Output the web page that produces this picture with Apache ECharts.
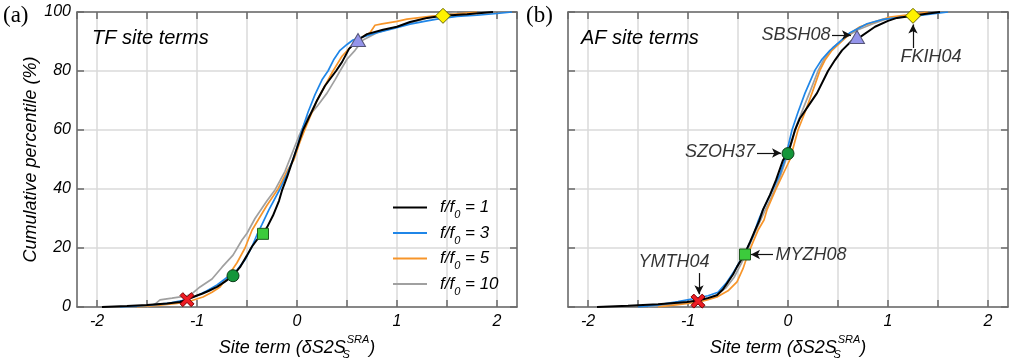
<!DOCTYPE html>
<html><head><meta charset="utf-8">
<script src="https://cdn.jsdelivr.net/npm/echarts@6/dist/echarts.min.js"></script>
<style>html,body{margin:0;padding:0;background:#fff}#c{width:1010px;height:360px}</style>
</head><body><div id="c"></div>
<script>
// ---------- DATA ----------
const seriesNames = ['f/f0 = 1', 'f/f0 = 3', 'f/f0 = 5', 'f/f0 = 10'];
const yTicks = [0, 20, 40, 60, 80, 100];

// (a) TF site terms : [site term, cumulative %]
const tfF1 = [[-1.95,0],[-1.7,0.3],[-1.5,0.7],[-1.3,1.2],[-1.17,1.7],[-1.1,2.5],[-1.0,3.9],[-0.95,4.5],[-0.88,5.5],[-0.8,6.8],[-0.72,8.6],[-0.64,10.6],[-0.57,13.5],[-0.5,17.5],[-0.45,20.5],[-0.4,22.8],[-0.34,24.8],[-0.3,27],[-0.24,31],[-0.18,36],[-0.15,39.5],[-0.1,44],[-0.05,49],[0.0,54],[0.06,60],[0.13,65],[0.2,70],[0.28,75],[0.39,80],[0.45,83],[0.52,87.5],[0.61,90.5],[0.7,92.5],[0.86,94],[1.0,95],[1.13,96.6],[1.3,98],[1.46,98.7],[1.7,99.2],[1.96,100]];
const tfF3 = [[-1.77,0],[-1.5,0.5],[-1.3,1.2],[-1.15,2.2],[-1.0,3.8],[-0.9,5.5],[-0.8,7.5],[-0.72,9.5],[-0.6,12.5],[-0.52,16],[-0.45,20.5],[-0.4,24.5],[-0.35,28],[-0.28,33],[-0.17,40],[-0.1,45],[-0.04,50],[0.0,54],[0.05,60],[0.11,66],[0.18,72],[0.25,77],[0.31,80],[0.37,84],[0.43,87],[0.5,89],[0.56,90.5],[0.7,92],[0.8,93],[0.95,94.3],[1.13,95.9],[1.3,97],[1.4,97.6],[1.6,98.5],[1.8,98.9],[2.0,99.5],[2.15,100]];
const tfF5 = [[-1.6,0],[-1.4,0.5],[-1.2,1.2],[-1.05,2.2],[-0.94,3.4],[-0.85,5],[-0.77,6.8],[-0.7,10],[-0.6,15],[-0.52,20],[-0.45,26],[-0.38,30],[-0.3,34.5],[-0.19,40],[-0.1,46],[-0.03,50],[0.03,56],[0.1,62],[0.2,70],[0.28,75],[0.36,80],[0.45,85],[0.56,89],[0.65,91.5],[0.73,93],[0.78,95.5],[0.85,96],[1.0,96.8],[1.1,97.6],[1.33,98.5],[1.5,99],[1.8,100]];
const tfF10 = [[-1.5,0],[-1.42,1],[-1.37,2.4],[-1.25,3],[-1.1,3.8],[-1.05,4.5],[-0.97,6.8],[-0.85,9.5],[-0.75,13.5],[-0.64,17.6],[-0.55,22.7],[-0.5,25],[-0.42,30],[-0.3,36],[-0.22,39.7],[-0.12,46],[-0.05,52],[0.02,58],[0.1,64],[0.2,68],[0.3,72.5],[0.38,77],[0.43,80],[0.5,84],[0.58,87],[0.66,90.5],[0.8,93],[1.0,95],[1.2,97],[1.36,98.5],[1.6,100]];

// (b) AF site terms
const afF1 = [[-1.91,0],[-1.6,0.4],[-1.3,0.9],[-1.01,1.7],[-0.9,2.2],[-0.8,3],[-0.71,4],[-0.65,6],[-0.61,8],[-0.55,11],[-0.51,13.6],[-0.44,17.6],[-0.38,22],[-0.33,26],[-0.29,29],[-0.25,33],[-0.18,38],[-0.12,43],[-0.05,49.8],[0.0,52],[0.07,60],[0.12,64],[0.2,68],[0.29,72.5],[0.4,80],[0.47,83.7],[0.54,87],[0.63,90],[0.72,91.5],[0.87,95],[1.0,97],[1.09,98],[1.25,98.7],[1.4,99.5],[1.52,100]];
const afF3 = [[-1.5,0],[-1.3,0.7],[-1.1,1.8],[-0.95,2.8],[-0.8,3.8],[-0.7,5],[-0.62,8],[-0.55,11.5],[-0.48,15.5],[-0.42,19],[-0.35,24],[-0.3,29],[-0.25,33],[-0.15,40],[-0.08,45],[-0.03,50],[0.04,60],[0.1,66],[0.17,72.5],[0.27,80.3],[0.34,84],[0.42,87],[0.52,90],[0.62,93],[0.79,96],[0.95,97.5],[1.15,98.3],[1.3,98.8],[1.6,100]];
const afF5 = [[-1.3,0],[-1.1,0.8],[-0.9,1.6],[-0.8,2.5],[-0.71,3.4],[-0.6,5.5],[-0.51,8.5],[-0.45,13],[-0.41,17],[-0.35,22],[-0.3,26],[-0.24,29.5],[-0.21,33],[-0.12,40],[-0.05,45],[0.02,50],[0.06,55],[0.1,60],[0.17,66],[0.24,72.5],[0.32,80.3],[0.37,83.7],[0.44,87],[0.55,90.5],[0.63,93],[0.72,95],[0.85,96.5],[1.02,98.3],[1.2,99],[1.4,100]];
const afF10 = [[-1.4,0],[-1.2,0.8],[-1.0,1.7],[-0.85,2.6],[-0.72,4],[-0.62,6.5],[-0.54,10],[-0.47,14.5],[-0.42,18],[-0.36,23],[-0.3,27.5],[-0.24,32],[-0.17,37],[-0.08,44],[-0.02,50],[0.04,56],[0.09,62],[0.16,68],[0.22,73],[0.3,80],[0.36,84],[0.45,88],[0.58,91.5],[0.7,94],[0.85,96],[1.0,97.8],[1.2,98.8],[1.5,100]];

// highlighted sites: cross, circle, square, triangle, diamond
const tfSites = [[-1.1,2.5],[-0.64,10.6],[-0.34,24.8],[0.61,90.5],[1.46,98.7]];
const afSites = [[-0.9,2.0],[0.0,52.0],[-0.43,17.8],[0.69,91.5],[1.25,98.7]];

// annotations for (b)
const afNoteNames = ['YMTH04','MYZH08','SZOH37','SBSH08','FKIH04'];
const afNoteAt = [[-1.14,15.3],[0.23,17.6],[-0.68,52.5],[0.08,92.2],[1.43,84.7]];
const afArrows = [[[-0.89,11.5],[-0.89,4.3]],[[-0.15,17.8],[-0.37,17.8]],[[-0.31,52.2],[-0.07,52.2]],[[0.44,92.2],[0.63,92.2]],[[1.25,87.8],[1.25,95.8]]];

// ---------- STYLE / OPTION ----------
const FONT = '"Liberation Sans", Arial, sans-serif';
const TXT = '#000';
const colors = ['#000000', '#1f86e8', '#f7952a', '#a0a0a0'];
const axisColor = '#6a6a6a';
const isInt = v => Math.abs(v - Math.round(v)) < 1e-6;

function xAxes(gridIndex, bottom) {
  const base = {
    type: 'value', gridIndex, min: -2.2, max: 2.2, splitNumber: 9,
    axisLine: { show: true, onZero: false, lineStyle: { color: axisColor, width: 1.5 } },
    axisTick: { show: true, inside: true, length: 7, lineStyle: { color: axisColor, width: 1.5 } },
  };
  if (bottom) {
    return Object.assign(base, {
      position: 'bottom',
      splitLine: { show: true, lineStyle: { color: '#dadada', width: 1.5 } },
      axisLabel: { show: true, margin: 7, fontFamily: FONT, fontStyle: 'italic', fontSize: 16, color: TXT,
        formatter: v => isInt(v) ? String(Math.round(v)) : '' , showMinLabel: false, showMaxLabel: false},
      name: '{n|Site term (δS2S}{sb|S}{sp|SRA}{n|)}',
      nameLocation: 'middle', nameGap: 26,
      nameTextStyle: { rich: {
        n: { fontFamily: FONT, fontStyle: 'italic', fontSize: 18, color: TXT, lineHeight: 26 },
        sb: { fontFamily: FONT, fontStyle: 'italic', fontSize: 11, color: TXT, width: 1, verticalAlign: 'bottom', lineHeight: 12 },
        sp: { fontFamily: FONT, fontStyle: 'italic', fontSize: 11, color: TXT, verticalAlign: 'top', lineHeight: 12 }
      } }
    });
  }
  return Object.assign(base, { position: 'top', splitLine: { show: false }, axisLabel: { show: false } });
}
function yAxes(gridIndex, left, labels) {
  return {
    type: 'value', gridIndex, min: yTicks[0], max: yTicks[yTicks.length - 1], interval: yTicks[1] - yTicks[0],
    position: left ? 'left' : 'right',
    axisLine: { show: true, onZero: false, lineStyle: { color: axisColor, width: 1.5 } },
    axisTick: { show: true, inside: true, length: 7, lineStyle: { color: axisColor, width: 1.5 } },
    splitLine: { show: left, lineStyle: { color: '#dadada', width: 1.5 } },
    axisLabel: { show: labels, margin: 6, fontFamily: FONT, fontStyle: 'italic', fontSize: 16, color: TXT },
    name: labels ? 'Cumulative percentile (%)' : '',
    nameLocation: 'middle', nameGap: 34,
    nameTextStyle: { fontFamily: FONT, fontStyle: 'italic', fontSize: 18, color: TXT }
  };
}

const curveSets = [[tfF1, tfF3, tfF5, tfF10], [afF1, afF3, afF5, afF10]];
const series = [];
[0, 1].forEach(p => {
  const xi = p * 2, yi = p * 2;
  [3, 2, 1, 0].forEach(k => {
    series.push({
      name: seriesNames[k], type: 'line', xAxisIndex: xi, yAxisIndex: yi,
      data: curveSets[p][k], showSymbol: false, symbol: 'none',
      lineStyle: { color: colors[k], width: k === 0 ? 2 : 1.7 }, itemStyle: { color: colors[k] },
      z: 3
    });
  });
  const sites = p === 0 ? tfSites : afSites;
  const markerDefs = [
    { symbol: 'path://M2,0 L5,3 L8,0 L10,2 L7,5 L10,8 L8,10 L5,7 L2,10 L0,8 L3,5 L0,2 Z', size: 14, color: '#ee1c24', border: '#7a0000' },
    { symbol: 'circle', size: 12, color: '#14963a', border: '#0b3d18' },
    { symbol: 'rect', size: 11, color: '#3ccb3c', border: '#205a20' },
    { symbol: 'triangle', size: [15, 13], color: '#9494ea', border: '#555577' },
    { symbol: 'diamond', size: [15, 15], color: '#fff200', border: '#666600' }
  ];
  markerDefs.forEach((m, i) => {
    series.push({
      name: 'site' + p + i, type: 'scatter', xAxisIndex: xi, yAxisIndex: yi,
      data: [sites[i]], symbol: m.symbol, symbolSize: m.size,
      itemStyle: { color: m.color, borderColor: m.border, borderWidth: 1, opacity: 1 }, z: 5
    });
  });
});
// annotation texts + arrows for (b)
series.push({
  name: 'notes', type: 'scatter', xAxisIndex: 2, yAxisIndex: 2, symbolSize: 1,
  itemStyle: { color: 'rgba(0,0,0,0)' }, z: 6,
  data: afNoteNames.map((n, i) => ({ name: n, value: afNoteAt[i] })),
  label: { show: true, position: 'inside', formatter: p => p.name, fontFamily: FONT, fontStyle: 'italic', fontSize: 18, color: TXT },
  markLine: {
    silent: true, animation: false, symbol: ['none', 'arrow'], symbolSize: [7, 9],
    lineStyle: { color: '#111', width: 1.2, type: 'solid' }, label: { show: false },
    data: afArrows.map(a => [{ coord: a[0] }, { coord: a[1] }])
  }
});

const option = {
  animation: false,
  backgroundColor: '#fff',
  grid: [
    { left: 77, right: 493, top: 12, bottom: 53, containLabel: false, outerBoundsMode: 'none' },
    { left: 568, right: 2, top: 12, bottom: 53, containLabel: false, outerBoundsMode: 'none' }
  ],
  xAxis: [xAxes(0, true), xAxes(0, false), xAxes(1, true), xAxes(1, false)],
  yAxis: [yAxes(0, true, true), yAxes(0, false, false), yAxes(1, true, false), yAxes(1, false, false)],
  title: [
    { text: '(a)', left: 3, top: 4, padding: 0, textStyle: { fontFamily: '"Liberation Serif", serif', fontWeight: 'normal', fontSize: 23, color: TXT } },
    { text: '(b)', left: 526, top: 4, padding: 0, textStyle: { fontFamily: '"Liberation Serif", serif', fontWeight: 'normal', fontSize: 23, color: TXT } },
    { text: 'TF site terms', left: 92, top: 28, padding: 0, textStyle: { fontFamily: FONT, fontStyle: 'italic', fontWeight: 'normal', fontSize: 20, color: TXT } },
    { text: 'AF site terms', left: 581, top: 28, padding: 0, textStyle: { fontFamily: FONT, fontStyle: 'italic', fontWeight: 'normal', fontSize: 20, color: TXT } }
  ],
  legend: {
    data: seriesNames, orient: 'vertical', left: 393, top: 199, padding: 0,
    itemWidth: 34, itemHeight: 2, icon: 'rect', itemGap: 4, selectedMode: false,
    formatter: n => { const parts = n.split('0 '); return '{g|}{i|f/f}{s|0}{i| ' + parts[1] + '}'; },
    textStyle: { rich: {
      g: { width: 8 },
      i: { fontFamily: FONT, fontStyle: 'italic', fontSize: 17, color: TXT, lineHeight: 20 },
      s: { fontFamily: FONT, fontStyle: 'italic', fontSize: 11, color: TXT, verticalAlign: 'bottom', lineHeight: 11, padding: [0, 0, -3, 0] }
    } }
  },
  series
};
const chart = echarts.init(document.getElementById('c'), null, { renderer: 'canvas' });
chart.setOption(option);
</script></body></html>
